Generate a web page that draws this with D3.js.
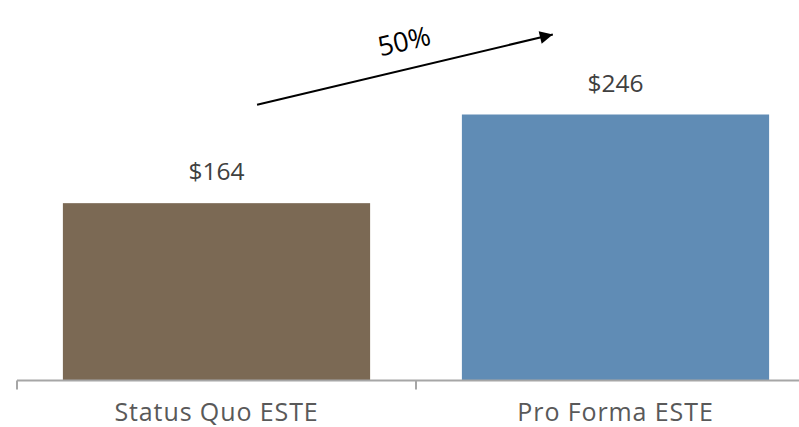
<!DOCTYPE html>
<html><head><meta charset="utf-8">
<script src="https://cdn.jsdelivr.net/npm/d3@7"></script>
<style>html,body{margin:0;padding:0;background:#fff;}svg{display:block;}</style>
</head><body>
<svg id="chart" width="799" height="427"></svg>
<script>
const categories = ["Status Quo ESTE", "Pro Forma ESTE"];
const values = [164, 246];
const valueLabels = ["$164", "$246"];
const barColors = ["#7b6954", "#608cb5"];
const growthLabel = "50%";

const svg = d3.select("#chart");
const baseY = 380.5;
const x = d3.scaleBand().domain(categories).range([17, 815]).paddingInner(0.23).paddingOuter(0.115);
const y = d3.scaleLinear().domain([0, 300]).range([baseY, baseY - 300 * 1.0813]);

// bars
svg.selectAll("rect.bar").data(values).enter().append("rect")
  .attr("class", "bar")
  .attr("x", (d, i) => x(categories[i]))
  .attr("width", x.bandwidth())
  .attr("y", d => y(d))
  .attr("height", d => y(0) - y(d))
  .attr("fill", (d, i) => barColors[i]);

// axis
svg.append("line").attr("x1", 17).attr("x2", 799).attr("y1", baseY).attr("y2", baseY)
  .attr("stroke", "#a6a6a6").attr("stroke-width", 2);
const tickXs = [17, 17 + x.step(), 17 + 2 * x.step()];
svg.selectAll("line.tk").data(tickXs).enter().append("line")
  .attr("x1", d => d).attr("x2", d => d).attr("y1", baseY).attr("y2", baseY + 9)
  .attr("stroke", "#a6a6a6").attr("stroke-width", 2);

// category labels
svg.selectAll("text.cat").data(categories).enter().append("text")
  .attr("x", d => x(d) + x.bandwidth() / 2)
  .attr("y", 421)
  .attr("text-anchor", "middle")
  .attr("font-family", "Open Sans")
  .attr("font-size", 25)
  .attr("letter-spacing", 0.9)
  .attr("fill", "#595959")
  .text(d => d);

// value labels
svg.selectAll("text.val").data(values).enter().append("text")
  .attr("x", (d, i) => x(categories[i]) + x.bandwidth() / 2)
  .attr("y", d => y(d) - 23)
  .attr("text-anchor", "middle")
  .attr("font-family", "Open Sans")
  .attr("font-size", 24.5)
  .attr("fill", "#404040")
  .text((d, i) => valueLabels[i]);

// growth arrow
const x0 = x(categories[0]) + x.bandwidth() * 0.632;
const x1 = x(categories[1]) + x.bandwidth() * 0.296;
const y0 = y(255), y1 = y(320);
svg.append("defs").append("marker")
  .attr("id", "ah").attr("viewBox", "0 0 10 10").attr("refX", 10).attr("refY", 5)
  .attr("markerWidth", 8).attr("markerHeight", 6.5).attr("markerUnits", "strokeWidth")
  .attr("orient", "auto")
  .append("path").attr("d", "M0,0 L10,5 L0,10 Z").attr("fill", "#000");
svg.append("line").attr("x1", x0).attr("y1", y0).attr("x2", x1).attr("y2", y1)
  .attr("stroke", "#000").attr("stroke-width", 2).attr("marker-end", "url(#ah)");
const ang = Math.atan2(y1 - y0, x1 - x0) * 180 / Math.PI;
svg.append("text")
  .attr("transform", `translate(404,41) rotate(${ang})`)
  .attr("text-anchor", "middle")
  .attr("dy", "0.36em")
  .attr("font-family", "Open Sans")
  .attr("font-size", 27)
  .attr("fill", "#000")
  .text(growthLabel);
</script>
</body></html>
